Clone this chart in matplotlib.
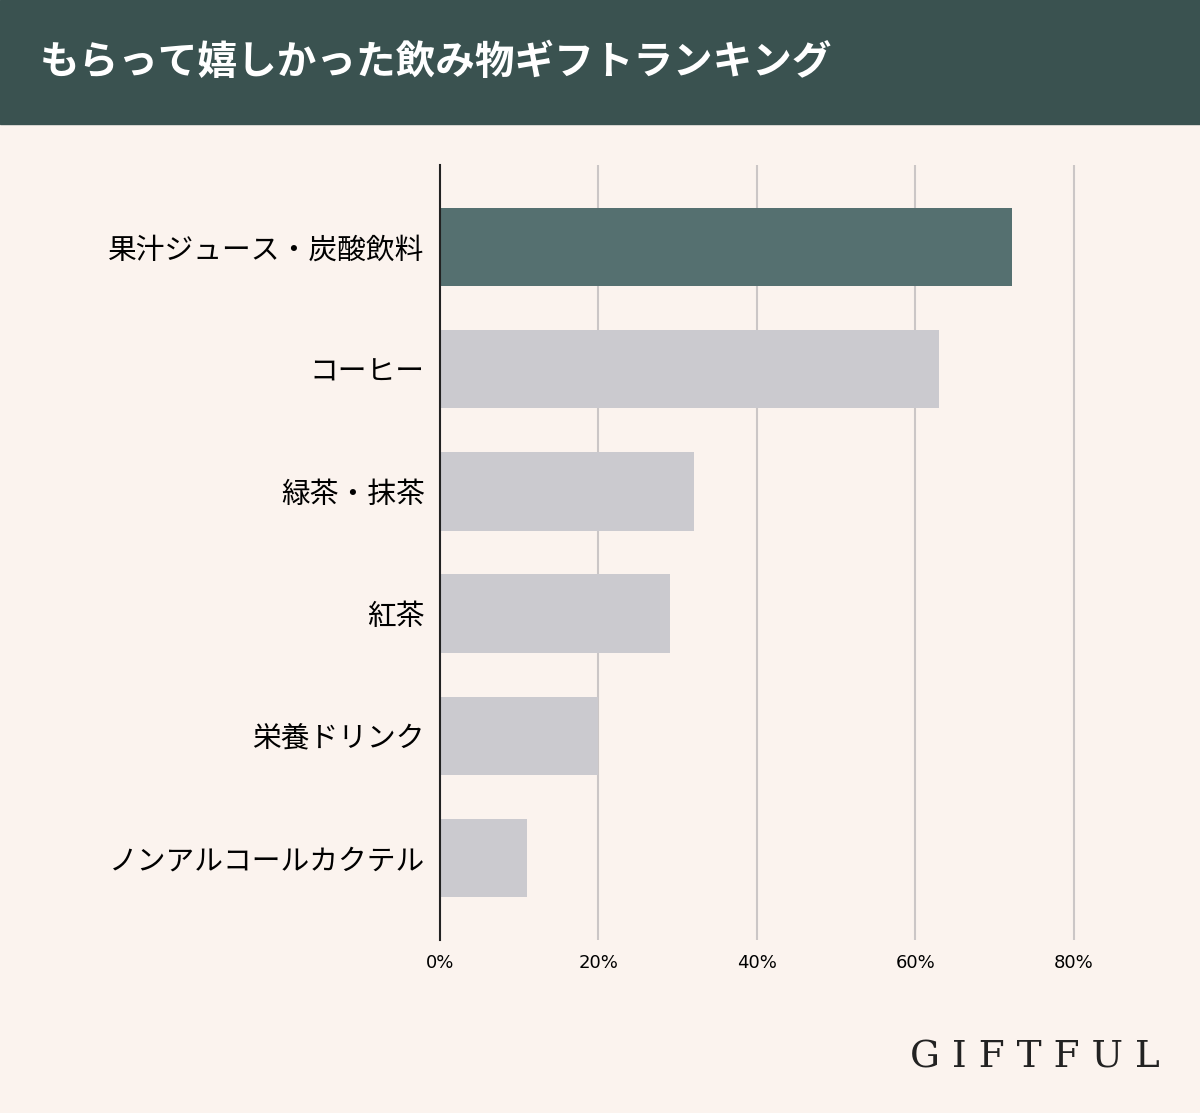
import matplotlib
matplotlib.use("Agg")
import matplotlib.pyplot as plt
from matplotlib.patches import Rectangle

plt.rcParams["font.family"] = "Noto Sans CJK JP"

categories = ["果汁ジュース・炭酸飲料", "コーヒー", "緑茶・抹茶", "紅茶", "栄養ドリンク", "ノンアルコールカクテル"]
values = [72.2, 63.0, 32.0, 29.0, 20.0, 11.0]
ticks = [0, 20, 40, 60, 80]
tick_labels = ["0%", "20%", "40%", "60%", "80%"]

W, H = 1200, 1113
fig = plt.figure(figsize=(W/100, H/100), dpi=100)
fig.patch.set_facecolor("#fbf3ee")
fig.patches.append(Rectangle((0, 1-124/H), 1, 124/H, transform=fig.transFigure, color="#3a5250", zorder=0))
fig.text(40/W, 1-62/H, "もらって嬉しかった飲み物ギフトランキング", color="white", fontsize=28.5, fontweight="bold", va="center")

ax = fig.add_axes([440/W, 1-940/H, (1100-440)/W, (940-165)/H])
ax.set_facecolor("none")
colors = ["#557070"] + ["#cbcacf"]*5
y = list(range(len(categories)))
ax.barh(y, values, height=0.64, color=colors, zorder=3)
ax.set_ylim(len(categories)-1+0.675, -0.675)
ax.set_xlim(0, 83.3)
ax.set_xticks(ticks)
ax.set_xticklabels(tick_labels, fontsize=13, fontfamily="DejaVu Sans")
ax.set_yticks(y)
ax.set_yticklabels(categories, fontsize=20.7)
ax.tick_params(length=0, pad=11)
ax.tick_params(axis="x", pad=10)
for t in ticks[1:]:
    ax.axvline(t, color="#cbc6c6", lw=1.5, zorder=1)
for s in ["top", "right", "bottom"]:
    ax.spines[s].set_visible(False)
ax.spines["left"].set_color("#222222")
ax.spines["left"].set_linewidth(1.5)
ax.spines["left"].set_zorder(4)

fig.text(1160/W, 1-1057/H, "G I F T F U L", color="#222222", fontsize=27, fontfamily="DejaVu Serif", ha="right", va="center")
fig.savefig("out.png", dpi=100, facecolor=fig.get_facecolor())
